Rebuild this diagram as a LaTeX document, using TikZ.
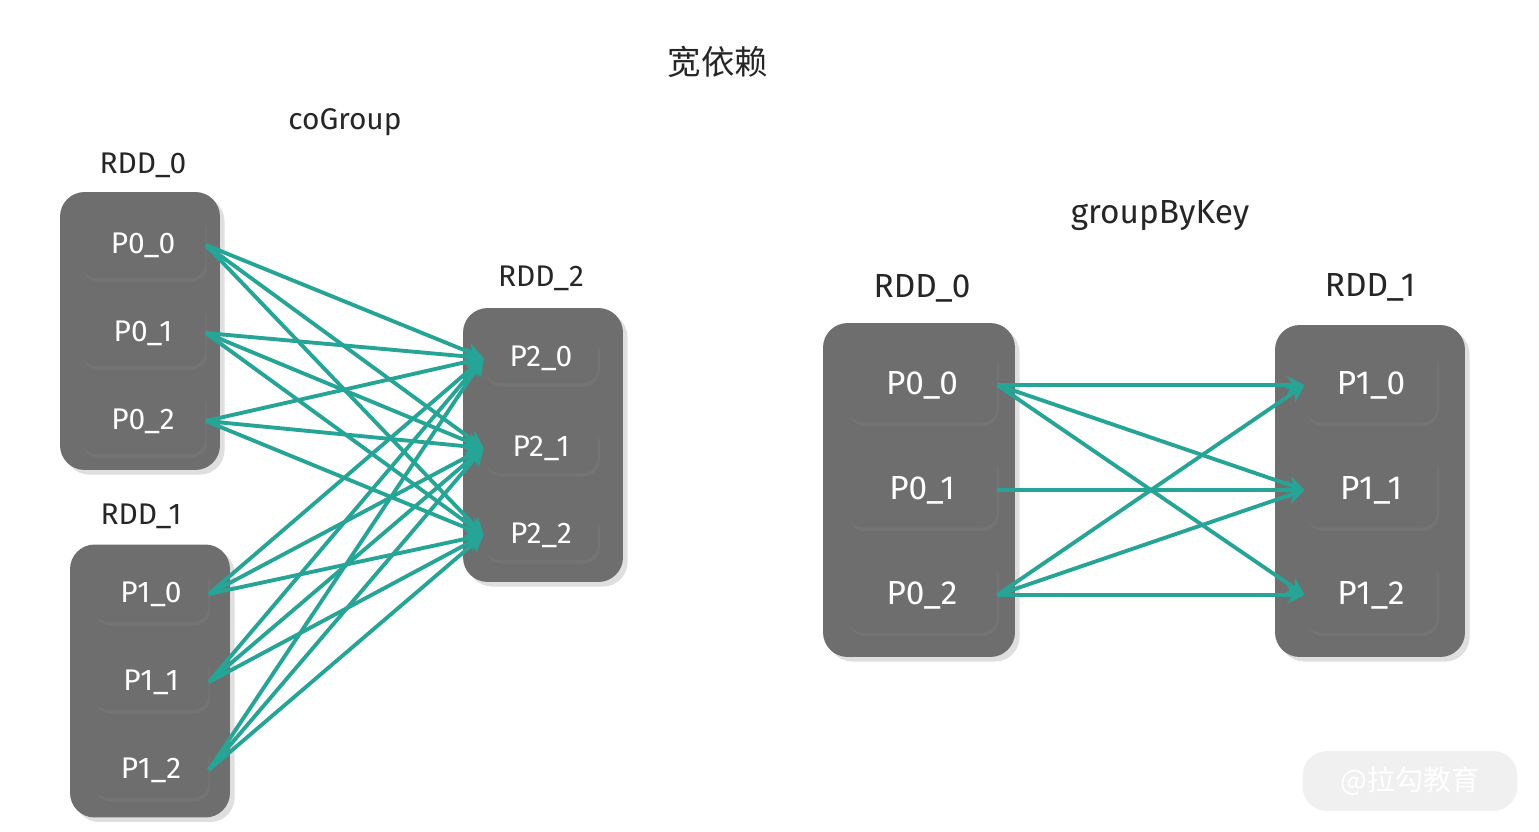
\documentclass[tikz,border=0pt]{standalone}
\usepackage{fontspec}
\setmainfont{Fira Sans}
\newfontfamily\cjk{Noto Sans CJK SC}
\usetikzlibrary{shadows,arrows.meta}
\definecolor{boxgray}{HTML}{6E6E6E}
\definecolor{edgeteal}{HTML}{26A596}
\definecolor{txtdark}{HTML}{262626}
\begin{document}
\begin{tikzpicture}[x=0.02cm,y=-0.02cm,
    rdd/.style={rounded corners=14pt,fill=boxgray,drop shadow={opacity=0.25},inner sep=0pt},
    p/.style={rounded corners=9pt,fill=boxgray,text=white,drop shadow={opacity=0.35,shadow xshift=1pt,shadow yshift=-2pt},inner sep=0pt,font=\fontsize{17}{20}\selectfont},
    lbl/.style={text=txtdark,font=\fontsize{17}{20}\selectfont},
    e/.style={draw=edgeteal,line width=2.2pt,-{Stealth[length=10pt,width=10pt]}}]
    \useasboundingbox (0,0) rectangle (1539,832);
    \node[text=txtdark,font=\cjk\fontsize{19}{22}\selectfont] (title) at (718,62) {宽依赖};
    % coGroup
    \node[lbl] (cog) at (345,122) {coGroup};
    \node[rdd,minimum width=3.2cm,minimum height=5.56cm] (r0) at (140,331) {};
    \node[lbl] (r0l) at (143,165) {RDD\_0};
    \node[rdd,minimum width=3.2cm,minimum height=5.46cm] (r1) at (150,681) {};
    \node[lbl] (r1l) at (141,516) {RDD\_1};
    \node[rdd,minimum width=3.2cm,minimum height=5.48cm] (r2) at (543,445) {};
    \node[lbl] (r2l) at (541,278) {RDD\_2};
    \foreach \i/\y in {0/245,1/333,2/421}
        \node[p,minimum width=2.5cm,minimum height=1.32cm] (a\i) at (143,\y) {P0\_\i};
    \foreach \i/\y in {0/594,1/682,2/770}
        \node[p,minimum width=2.3cm,minimum height=1.12cm] (b\i) at (151,\y) {P1\_\i};
    \foreach \i/\y in {0/358,1/448,2/535}
        \node[p,minimum width=2.28cm,minimum height=1.0cm] (c\i) at (541,\y) {P2\_\i};
    \foreach \s in {a0,a1,a2,b0,b1,b2}
        \foreach \t in {c0,c1,c2}
            \draw[e] (\s.east) -- (\t.west);
    % groupByKey
    \node[lbl,font=\fontsize{19}{22}\selectfont] (gbk) at (1160,216) {groupByKey};
    \node[rdd,minimum width=3.84cm,minimum height=6.68cm] (s0) at (919,490) {};
    \node[lbl,font=\fontsize{19}{22}\selectfont] (s0l) at (922,288) {RDD\_0};
    \node[rdd,minimum width=3.8cm,minimum height=6.64cm] (s1) at (1370,491) {};
    \node[lbl,font=\fontsize{19}{22}\selectfont] (s1l) at (1370,287) {RDD\_1};
    \foreach \i/\y in {0/385,1/490,2/595}
        \node[p,font=\fontsize{19}{22}\selectfont,minimum width=3cm,minimum height=1.5cm] (d\i) at (922,\y) {P0\_\i};
    \foreach \i/\y in {0/385,1/490,2/595}
        \node[p,font=\fontsize{19}{22}\selectfont,minimum width=2.64cm,minimum height=1.5cm] (f\i) at (1371,\y) {P1\_\i};
    \foreach \s/\t in {d0/f0,d0/f1,d0/f2,d1/f1,d2/f0,d2/f1,d2/f2}
        \draw[e] (\s.east) -- (\t.west);
    % watermark
    \node[fill=gray!12,rounded corners=14pt,text=white,font=\cjk\fontsize{16}{19}\selectfont,minimum width=4.3cm,minimum height=1.2cm] (wm) at (1410,781) {@拉勾教育};
\end{tikzpicture}
\end{document}
